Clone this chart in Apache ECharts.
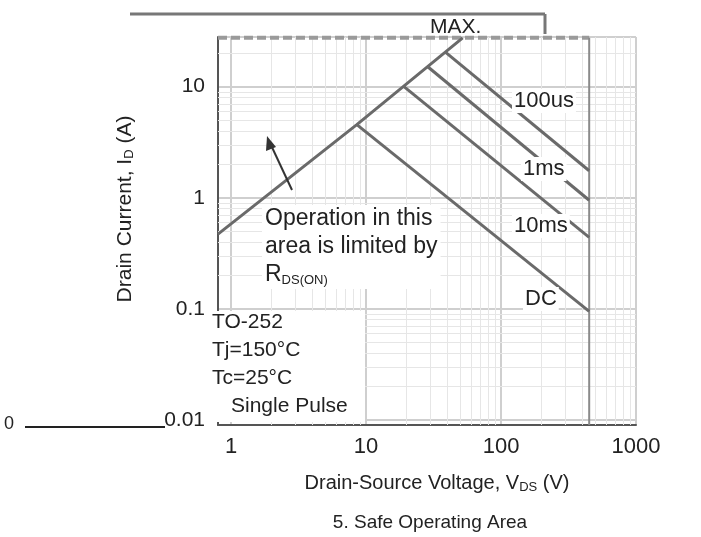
<!DOCTYPE html>
<html>
<head>
<meta charset="utf-8">
<script src="https://cdn.jsdelivr.net/npm/echarts@6/dist/echarts.min.js"></script>
<style>html,body{margin:0;padding:0;background:#fff}#c{width:701px;height:537px}</style>
</head>
<body>
<div id="c"></div>
<script>
// ---- data ----
const xTickLabels = ['1', '10', '100', '1000'];
const yTickLabels = ['0.01', '0.1', '1', '10'];
const xMinor = [2,3,4,5,6,7,8,9,20,30,40,50,60,70,80,90,200,300,400,500,600,700,800,900];
const yMinor = [0.02,0.03,0.04,0.05,0.06,0.07,0.08,0.09,0.2,0.3,0.4,0.5,0.6,0.7,0.8,0.9,2,3,4,5,6,7,8,9,20];
const rdsV = [0.8, 8.54, 52];     const rdsI = [0.47, 4.56, 27.5];
const us100V = [38.5, 450]; const us100I = [20.6, 1.75];
const ms1V = [28.5, 450];   const ms1I = [15.2, 0.95];
const ms10V = [18.9, 450];  const ms10I = [10.1, 0.44];
const dcV = [8.54, 450];    const dcI = [4.56, 0.095];
const vmaxV = [450, 450];   const vmaxI = [27.5, 0.009];
const idmaxV = [0.8, 450];  const idmaxI = [27.5, 27.5];
const legendLines = ['TO-252', 'Tj=150°C', 'Tc=25°C'];
const legendLast = 'Single Pulse';

function pairs(xs, ys){ return xs.map((x,i)=>[x, ys[i]]); }
function isPow10(v){ const l = Math.log10(v); return Math.abs(l - Math.round(l)) < 1e-6; }

const chart = echarts.init(document.getElementById('c'), null, {renderer:'canvas'});
const FONT = 'Liberation Sans, Arial, sans-serif';
const LINE = '#6a6a6a';
const lineSeries = (name, data, extra) => Object.assign({
  name, type:'line', data, symbol:'none', silent:true,
  lineStyle:{color:LINE, width:3}, z:5, animation:false
}, extra || {});

chart.setOption({
  animation:false,
  backgroundColor:'#fff',
  grid:{left:218, right:65, top:37, bottom:112, containLabel:false},
  xAxis:{
    type:'log', min:0.8, max:1000, logBase:10,
    axisLine:{show:true, lineStyle:{color:'#555', width:2}},
    axisTick:{show:false},
    axisLabel:{
      margin:11, fontFamily:FONT, fontSize:22, color:'#222',
      showMinLabel:false,
      formatter:v=> isPow10(v) ? xTickLabels[Math.round(Math.log10(v))] || '' : ''
    },
    splitLine:{show:true, lineStyle:{color:'#cfcfcf', width:2}}
  },
  yAxis:{
    type:'log', min:0.009, max:28, logBase:10,
    axisLine:{show:true, lineStyle:{color:'#555', width:2}},
    axisTick:{show:false},
    axisLabel:{
      margin:13, fontFamily:FONT, fontSize:21, color:'#222',
      showMinLabel:false, showMaxLabel:false,
      formatter:v=> isPow10(v) ? (yTickLabels[Math.round(Math.log10(v))+2] || '') : ''
    },
    splitLine:{show:true, lineStyle:{color:'#cfcfcf', width:2}}
  },
  series:[
    {
      type:'line', data:[[1,1]], symbol:'none', lineStyle:{opacity:0}, silent:true, z:1,
      markLine:{
        silent:true, symbol:'none', animation:false, label:{show:false},
        lineStyle:{color:'#e6e6e6', width:1, type:'solid'},
        data: xMinor.map(v=>({xAxis:v})).concat(yMinor.map(v=>({yAxis:v})))
      }
    },
    lineSeries('IDmax', pairs(idmaxV, idmaxI), {lineStyle:{color:'#9a9a9a', width:4, type:[9,4]}}),
    lineSeries('VDSmax', pairs(vmaxV, vmaxI), {lineStyle:{color:'#8a8a8a', width:2}}),
    lineSeries('RDS(on)', pairs(rdsV, rdsI)),
    lineSeries('100us', pairs(us100V, us100I)),
    lineSeries('1ms', pairs(ms1V, ms1I)),
    lineSeries('10ms', pairs(ms10V, ms10I)),
    lineSeries('DC', pairs(dcV, dcI))
  ],
  graphic:[
    // scan artefact lines
    {type:'line', shape:{x1:130,y1:14,x2:545,y2:14}, style:{stroke:'#777', lineWidth:3}, z:10},
    {type:'line', shape:{x1:545,y1:14,x2:545,y2:34}, style:{stroke:'#777', lineWidth:3}, z:10},
    {type:'line', shape:{x1:25,y1:427,x2:165,y2:427}, style:{stroke:'#222', lineWidth:2}, z:10},
    {type:'text', left:4, top:415, style:{text:'0', font:'18px '+FONT, fill:'#222'}, z:10},
    // line labels
    {type:'text', left:512, top:89, style:{text:'100us', font:'22px '+FONT, fill:'#222', backgroundColor:'#fff', padding:[1,2]}, z:20},
    {type:'text', left:521, top:157, style:{text:'1ms', font:'22px '+FONT, fill:'#222', backgroundColor:'#fff', padding:[1,2]}, z:20},
    {type:'text', left:512, top:214, style:{text:'10ms', font:'22px '+FONT, fill:'#222', backgroundColor:'#fff', padding:[1,2]}, z:20},
    {type:'text', left:523, top:287, style:{text:'DC', font:'22px '+FONT, fill:'#222', backgroundColor:'#fff', padding:[1,2]}, z:20},
    {type:'text', left:430, top:17, style:{text:'MAX.', font:'21px '+FONT, fill:'#222'}, z:20},
    // operation text
    {type:'text', left:262, top:205, z:20, style:{
      text:'Operation in this\narea is limited by\nR{sub|DS(ON)}',
      font:'23px '+FONT, fill:'#222', lineHeight:28, backgroundColor:'#fff', padding:[0,3],
      rich:{sub:{fontSize:13, fontFamily:FONT, fill:'#222', padding:[10,0,0,0], lineHeight:28}}
    }},
    // arrow
    {type:'line', shape:{x1:292,y1:190,x2:270,y2:143}, style:{stroke:'#333', lineWidth:2}, z:20},
    {type:'polygon', shape:{points:[[267,136],[266,151],[276,147]]}, style:{fill:'#333'}, z:20},
    // condition box
    {type:'rect', shape:{x:210, y:311, width:155, height:111}, style:{fill:'#fff'}, z:15},
    {type:'text', left:212, top:308, z:20, style:{
      text: legendLines.join('\n'), font:'21px '+FONT, fill:'#222', lineHeight:28
    }},
    {type:'text', left:231, top:392, z:20, style:{
      text: legendLast, font:'21px '+FONT, fill:'#222', lineHeight:28
    }},
    // axis titles
    {type:'text', x:125, y:209, rotation:Math.PI/2, z:20, style:{
      text:'Drain Current, I{sub|D} (A)', font:'21px '+FONT, fill:'#222', align:'center', verticalAlign:'middle',
      rich:{sub:{fontSize:13, fontFamily:FONT, fill:'#222', padding:[9,0,0,0]}}
    }},
    {type:'text', x:437, y:483, z:20, style:{
      text:'Drain-Source Voltage, V{sub|DS} (V)', font:'20px '+FONT, fill:'#222', align:'center', verticalAlign:'middle',
      rich:{sub:{fontSize:13, fontFamily:FONT, fill:'#222', padding:[9,0,0,0]}}
    }},
    {type:'text', x:430, y:523, z:20, style:{
      text:'5. Safe Operating Area', font:'19px '+FONT, fill:'#222', align:'center', verticalAlign:'middle'
    }}
  ]
});
</script>
</body>
</html>
